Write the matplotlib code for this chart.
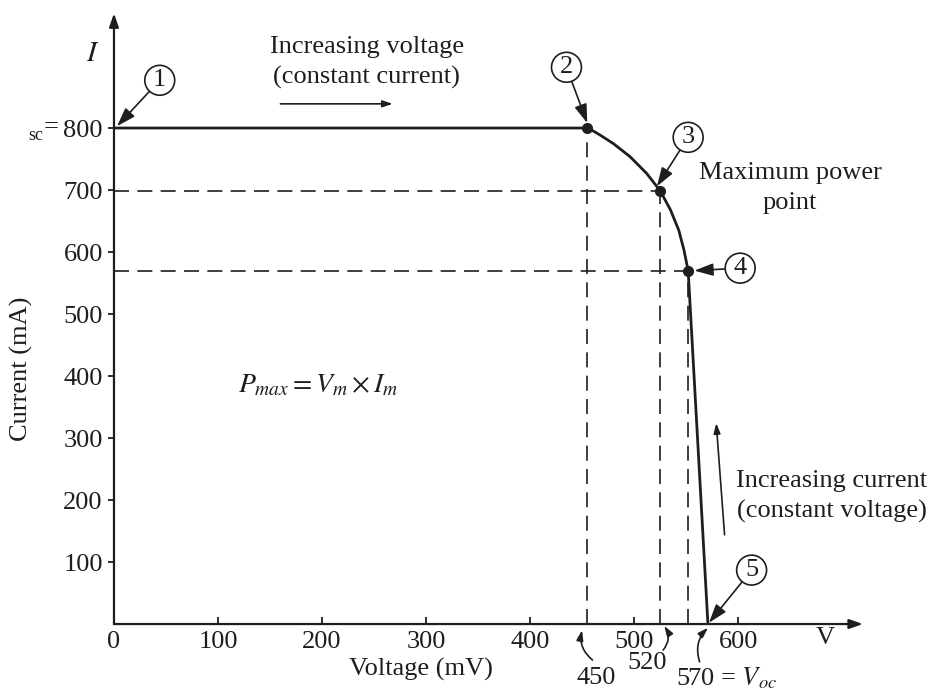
import matplotlib
matplotlib.use("Agg")

import matplotlib.pyplot as plt

# I-V curve (voltage in mV, current in mA)
volts = [0, 455, 461, 467, 480, 496, 512, 525, 535, 543, 548, 552, 571]
amps = [800, 800, 795, 789, 775, 754, 727, 699, 668, 635, 603, 570, 0]

# numbered points on the curve
pt_v = [0, 455, 525, 552, 571]
pt_i = [800, 800, 699, 570, 0]

xticks = [0, 100, 200, 300, 400, 500, 600]
yticks = [100, 200, 300, 400, 500, 600, 700, 800]

ink = "#1e1e1e"
plt.rcParams["font.family"] = ["Liberation Serif", "DejaVu Serif"]
plt.rcParams["mathtext.fontset"] = "stix"
fs = 19

fig = plt.figure(figsize=(9.35, 6.96), dpi=100)
ax = fig.add_axes([0.1219, 0.1034, 0.801, 0.873])
ax.set_xlim(0, 720)
ax.set_ylim(0, 980)
for s in ax.spines.values():
    s.set_visible(False)

# axes with arrow heads
head = "-|>,head_length=0.8,head_width=0.28"
ax.annotate("", xy=(720, 0), xytext=(0, 0), annotation_clip=False,
            arrowprops=dict(arrowstyle=head, color=ink, lw=1.6, shrinkA=0, shrinkB=0))
ax.annotate("", xy=(0, 985), xytext=(0, 0), annotation_clip=False,
            arrowprops=dict(arrowstyle=head, color=ink, lw=1.6, shrinkA=0, shrinkB=0))

ax.set_xticks(xticks)
ax.set_xticklabels([str(t) for t in xticks], fontsize=fs, color=ink)
ax.set_yticks(yticks)
ax.set_yticklabels([str(t) for t in yticks], fontsize=fs, color=ink)
ax.tick_params(axis="x", direction="in", length=5, width=1.3, color=ink, pad=5)
ax.tick_params(axis="y", direction="out", length=4, width=1.3, color=ink, pad=4)

ax.text(-68, 788, "sc", fontsize=13, color=ink, ha="right", va="center")
ax.text(-53, 802, "=", fontsize=fs, color=ink, ha="right", va="center")

ax.set_xlabel("Voltage (mV)", fontsize=fs, color=ink)
ax.xaxis.set_label_coords(0.41, -0.056)
ax.set_ylabel("Current (mA)", fontsize=fs, color=ink)
ax.yaxis.set_label_coords(-0.108, 0.42)
ax.text(684, -22, "V", fontsize=fs, color=ink, ha="center", va="center")
ax.text(-20, 920, "$I$", fontsize=fs + 2, color=ink, ha="center", va="center")

# dashed guide lines
dash = dict(color=ink, lw=1.2, dashes=(9, 5))
ax.plot([0, pt_v[2]], [pt_i[2], pt_i[2]], **dash)
ax.plot([0, pt_v[3]], [pt_i[3], pt_i[3]], **dash)
for k in (1, 2, 3):
    ax.plot([pt_v[k], pt_v[k]], [0, pt_i[k]], **dash)

# the curve
ax.plot(volts, amps, color=ink, lw=2, solid_joinstyle="round")
ax.plot(pt_v[1:4], pt_i[1:4], "o", color=ink, ms=7)

# numbered circles with arrows
small = "-|>,head_length=0.6,head_width=0.2"
circles = [(44, 877), (435, 898), (552, 785), (602, 574), (613, 87)]
tips = [(3, 803), (455, 808), (522, 706), (558, 570), (572, 2)]
for n, (c, t) in enumerate(zip(circles, tips), start=1):
    ax.annotate(str(n), xy=t, xytext=c, fontsize=fs, color=ink, ha="center", va="center",
                annotation_clip=False,
                bbox=dict(boxstyle="circle,pad=0.15", fc="white", ec=ink, lw=1.2),
                arrowprops=dict(arrowstyle=small, color=ink, lw=1.2, shrinkA=0, shrinkB=0))

# text annotations
ax.text(243, 906, "Increasing voltage\n(constant current)", fontsize=fs, color=ink,
        ha="center", va="center", linespacing=1.45)
ax.annotate("", xy=(268, 839), xytext=(160, 839),
            arrowprops=dict(arrowstyle=small, color=ink, lw=1.2, shrinkA=0, shrinkB=0))
ax.text(650, 703, "Maximum power\npoint", fontsize=fs, color=ink, ha="center", va="center",
        linespacing=1.45)
ax.text(690, 205, "Increasing current\n(constant voltage)", fontsize=fs, color=ink,
        ha="center", va="center", linespacing=1.45)
ax.annotate("", xy=(579, 324), xytext=(587, 144),
            arrowprops=dict(arrowstyle=small, color=ink, lw=1.2, shrinkA=0, shrinkB=0))
ax.text(196, 385, r"$P_{max} = V_m \times I_m$", fontsize=fs + 1, color=ink,
        ha="center", va="center")

# value callouts under the axis
callouts = [("450", (464, -87), (450, -10), (460, -58), -0.3, "center"),
            ("520", (513, -63), (529, -3), (528, -42), 0.35, "center"),
            (r"570 = $V_{oc}$", (540, -87), (571, -6), (563, -61), -0.3, "left")]
for lab, tpos, tip, tail, rad, ha in callouts:
    ax.text(tpos[0], tpos[1], lab, fontsize=fs, color=ink, ha=ha, va="center", clip_on=False)
    ax.annotate("", xy=tip, xytext=tail, annotation_clip=False,
                arrowprops=dict(arrowstyle=small, color=ink, lw=1.2,
                                connectionstyle=f"arc3,rad={rad}", shrinkA=0, shrinkB=0))

fig.savefig("out.png", dpi=100)
